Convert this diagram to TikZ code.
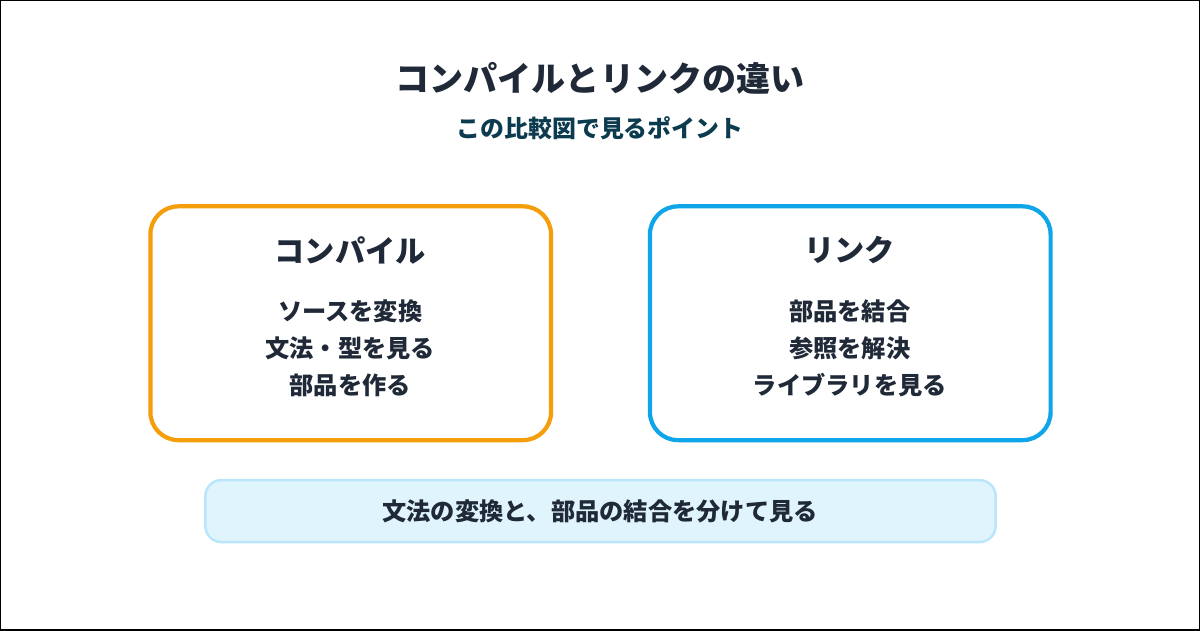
\documentclass[tikz,border=0pt]{standalone}
\usepackage{fontspec}
\setmainfont{Noto Sans CJK JP}
\usetikzlibrary{positioning}
\definecolor{ink}{HTML}{1F2937}
\definecolor{subink}{HTML}{0C3B4F}
\definecolor{compcol}{HTML}{F59E0B}
\definecolor{linkcol}{HTML}{0EA5E9}
\definecolor{notefill}{HTML}{E0F4FC}
\definecolor{notedraw}{HTML}{BAE6FD}
\begin{document}
\begin{tikzpicture}[x=0.01cm,y=-0.01cm,
    panel/.style={rounded corners=0.28cm,line width=1.2pt,fill=white},
    head/.style={font=\fontsize{8.6pt}{10pt}\selectfont\bfseries,text=ink},
    item/.style={font=\fontsize{6.9pt}{10.6pt}\selectfont\bfseries,text=ink,align=center}]
        \draw[black,line width=0.3pt] (0,0) rectangle (1200,630);
        \node[font=\fontsize{9.7pt}{12pt}\selectfont\bfseries,text=ink] (title) at (600,78) {コンパイルとリンクの違い};
        \node[font=\fontsize{6.8pt}{8pt}\selectfont\bfseries,text=subink] (sub) at (600,128) {この比較図で見るポイント};

        \draw[panel,draw=compcol] (150,206) rectangle (551,440);
        \node[head] (comp) at (350,250) {コンパイル};
        \node[item] (compitems) at (350,348) {ソースを変換\\文法・型を見る\\部品を作る};

        \draw[panel,draw=linkcol] (650,206) rectangle (1051,440);
        \node[head] (link) at (850,250) {リンク};
        \node[item] (linkitems) at (850,348) {部品を結合\\参照を解決\\ライブラリを見る};

        \draw[rounded corners=0.16cm,line width=0.7pt,draw=notedraw,fill=notefill] (205,480) rectangle (996,542);
        \node[item] (note) at (600,511) {文法の変換と、部品の結合を分けて見る};
    \end{tikzpicture}
\end{document}
